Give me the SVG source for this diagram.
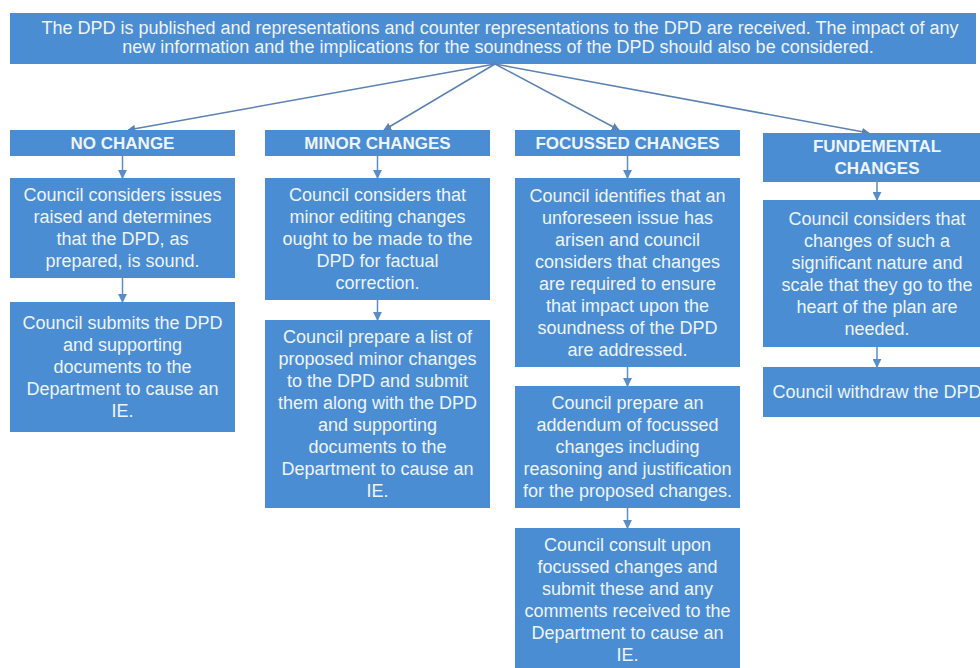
<svg xmlns="http://www.w3.org/2000/svg" width="980" height="668" viewBox="0 0 980 668">
<defs>
<marker id="ah" viewBox="0 0 10 10" refX="9" refY="5" markerWidth="8" markerHeight="8" markerUnits="userSpaceOnUse" orient="auto">
<path d="M0,0 L10,5 L0,10 z" fill="#5b82b0"/>
</marker>
<marker id="ahb" viewBox="0 0 10 10" refX="9" refY="5" markerWidth="9" markerHeight="9" markerUnits="userSpaceOnUse" orient="auto">
<path d="M0,0 L10,5 L0,10 z" fill="#5a8cc6"/>
</marker>
</defs>
<style>
.box{fill:#4b8dd2;}
.t{font-family:"Liberation Sans",Arial,sans-serif;font-size:18px;fill:#eef4fb;text-anchor:middle;dominant-baseline:central;}
.h{font-family:"Liberation Sans",Arial,sans-serif;font-size:17px;font-weight:bold;fill:#eef4fb;text-anchor:middle;dominant-baseline:central;}
.top{font-family:"Liberation Sans",Arial,sans-serif;font-size:18px;fill:#eef4fb;text-anchor:middle;dominant-baseline:central;}
.c{stroke:#5b82b0;stroke-width:1.5;fill:none;marker-end:url(#ah);}
.v{stroke:#5a8cc6;stroke-width:1.5;fill:none;marker-end:url(#ahb);}
</style>
<rect width="980" height="668" fill="#ffffff"/>

<g id="top">
<rect class="box" x="10" y="13" width="966" height="51"/>
<text class="top" x="500" y="28">The DPD is published and representations and counter representations to the DPD are received. The impact of any</text>
<text class="top" x="498" y="47">new information and the implications for the soundness of the DPD should also be considered.</text>
</g>

<g id="connectors">
<line class="c" x1="495" y1="64" x2="128" y2="130"/>
<line class="c" x1="495" y1="64" x2="384" y2="130"/>
<line class="c" x1="495" y1="64" x2="619" y2="130"/>
<line class="c" x1="495" y1="64" x2="869" y2="133"/>
<line class="v" x1="122.5" y1="156" x2="122.5" y2="178"/>
<line class="v" x1="122.5" y1="278" x2="122.5" y2="302"/>
<line class="v" x1="377.5" y1="156" x2="377.5" y2="178"/>
<line class="v" x1="377.5" y1="300" x2="377.5" y2="320"/>
<line class="v" x1="627.5" y1="156" x2="627.5" y2="178"/>
<line class="v" x1="627.5" y1="367" x2="627.5" y2="386"/>
<line class="v" x1="627.5" y1="508" x2="627.5" y2="528"/>
<line class="v" x1="877" y1="182" x2="877" y2="200"/>
<line class="v" x1="877" y1="347" x2="877" y2="367"/>
</g>

<g id="no-change">
<rect class="box" x="10" y="130" width="225" height="26"/>
<text class="h" x="122.5" y="143">NO CHANGE</text>
</g>
<g id="no-change-1">
<rect class="box" x="10" y="178" width="225" height="100"/>
<text class="t" x="122.5" y="195">Council considers issues</text>
<text class="t" x="122.5" y="217">raised and determines</text>
<text class="t" x="122.5" y="239">that the DPD, as</text>
<text class="t" x="122.5" y="261">prepared, is sound.</text>
</g>
<g id="no-change-2">
<rect class="box" x="10" y="302" width="225" height="130"/>
<text class="t" x="122.5" y="323">Council submits the DPD</text>
<text class="t" x="122.5" y="345">and supporting</text>
<text class="t" x="122.5" y="367">documents to the</text>
<text class="t" x="122.5" y="389">Department to cause an</text>
<text class="t" x="122.5" y="411">IE.</text>
</g>

<g id="minor">
<rect class="box" x="265" y="130" width="225" height="26"/>
<text class="h" x="377.5" y="143">MINOR CHANGES</text>
</g>
<g id="minor-1">
<rect class="box" x="265" y="178" width="225" height="122"/>
<text class="t" x="377.5" y="195">Council considers that</text>
<text class="t" x="377.5" y="217">minor editing changes</text>
<text class="t" x="377.5" y="239">ought to be made to the</text>
<text class="t" x="377.5" y="261">DPD for factual</text>
<text class="t" x="377.5" y="283">correction.</text>
</g>
<g id="minor-2">
<rect class="box" x="265" y="320" width="225" height="188"/>
<text class="t" x="377.5" y="337">Council prepare a list of</text>
<text class="t" x="377.5" y="359">proposed minor changes</text>
<text class="t" x="377.5" y="381">to the DPD and submit</text>
<text class="t" x="377.5" y="403">them along with the DPD</text>
<text class="t" x="377.5" y="425">and supporting</text>
<text class="t" x="377.5" y="447">documents to the</text>
<text class="t" x="377.5" y="469">Department to cause an</text>
<text class="t" x="377.5" y="491">IE.</text>
</g>

<g id="focussed">
<rect class="box" x="515" y="130" width="225" height="26"/>
<text class="h" x="627.5" y="143">FOCUSSED CHANGES</text>
</g>
<g id="focussed-1">
<rect class="box" x="515" y="178" width="225" height="189"/>
<text class="t" x="627.5" y="195.5">Council identifies that an</text>
<text class="t" x="627.5" y="217.5">unforeseen issue has</text>
<text class="t" x="627.5" y="239.5">arisen and council</text>
<text class="t" x="627.5" y="261.5">considers that changes</text>
<text class="t" x="627.5" y="283.5">are required to ensure</text>
<text class="t" x="627.5" y="305.5">that impact upon the</text>
<text class="t" x="627.5" y="327.5">soundness of the DPD</text>
<text class="t" x="627.5" y="349.5">are addressed.</text>
</g>
<g id="focussed-2">
<rect class="box" x="515" y="386" width="225" height="122"/>
<text class="t" x="627.5" y="403">Council prepare an</text>
<text class="t" x="627.5" y="425">addendum of focussed</text>
<text class="t" x="627.5" y="447">changes including</text>
<text class="t" x="627.5" y="469">reasoning and justification</text>
<text class="t" x="627.5" y="491">for the proposed changes.</text>
</g>
<g id="focussed-3">
<rect class="box" x="515" y="528" width="225" height="145"/>
<text class="t" x="627.5" y="545">Council consult upon</text>
<text class="t" x="627.5" y="567">focussed changes and</text>
<text class="t" x="627.5" y="589">submit these and any</text>
<text class="t" x="627.5" y="611">comments received to the</text>
<text class="t" x="627.5" y="633">Department to cause an</text>
<text class="t" x="627.5" y="655">IE.</text>
</g>

<g id="fundemental">
<rect class="box" x="763" y="133" width="228" height="49"/>
<text class="h" x="877" y="146">FUNDEMENTAL</text>
<text class="h" x="877" y="168">CHANGES</text>
</g>
<g id="fundemental-1">
<rect class="box" x="763" y="200" width="228" height="147"/>
<text class="t" x="877" y="218.5">Council considers that</text>
<text class="t" x="877" y="240.5">changes of such a</text>
<text class="t" x="877" y="262.5">significant nature and</text>
<text class="t" x="877" y="284.5">scale that they go to the</text>
<text class="t" x="877" y="306.5">heart of the plan are</text>
<text class="t" x="877" y="328.5">needed.</text>
</g>
<g id="fundemental-2">
<rect class="box" x="763" y="367" width="228" height="50"/>
<text class="t" x="877" y="392">Council withdraw the DPD</text>
</g>
</svg>
